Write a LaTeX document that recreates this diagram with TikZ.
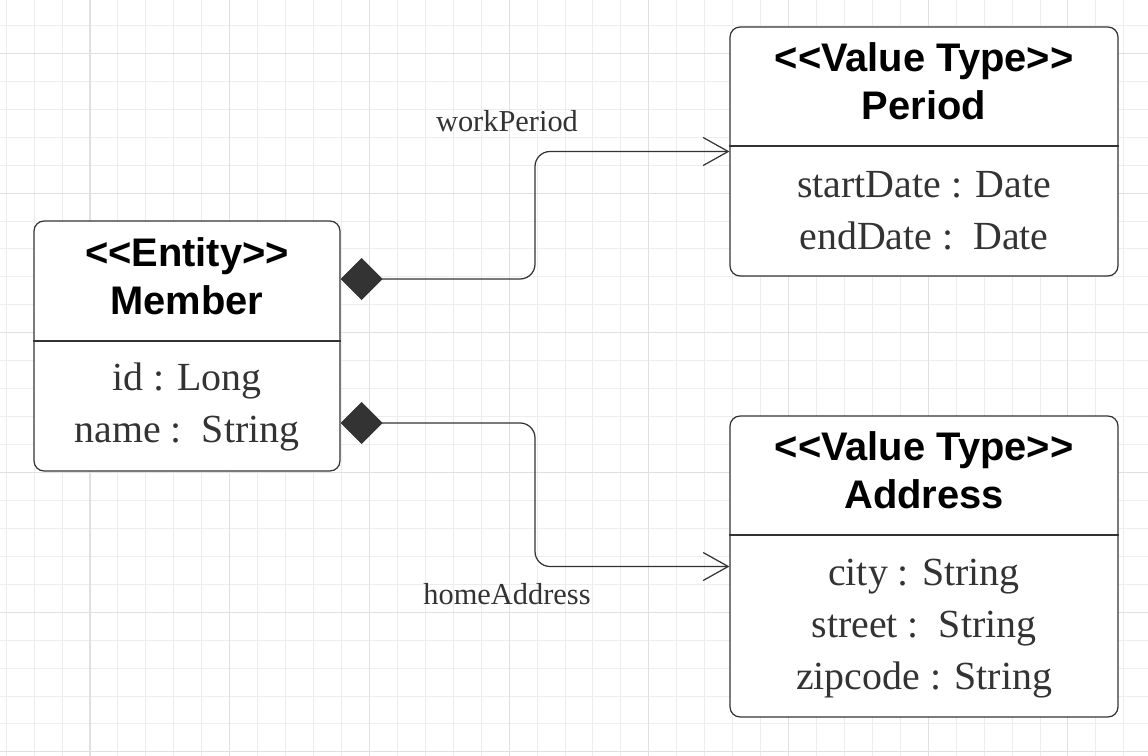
\documentclass[tikz,border=0pt]{standalone}
\usepackage{fontspec}
\setmainfont{Liberation Serif}
\newfontfamily\headfont{Liberation Sans}
\definecolor{UMLdark}{HTML}{333333}
\definecolor{GRIDminor}{HTML}{EDEDED}
\definecolor{GRIDmajor}{HTML}{E0E0E0}
\usetikzlibrary{arrows.meta, calc, positioning}

\begin{document}
\begin{tikzpicture}[x=0.02cm, y=-0.02cm,
      gridminor/.style={GRIDminor, line width=0.55pt},
      gridmajor/.style={GRIDmajor, line width=0.6pt},
      classbox/.style={draw=UMLdark, line width=0.7pt, rounded corners=0.2cm, fill=white},
      divider/.style={UMLdark, line width=0.7pt},
      headtext/.style={align=center, text=black, font=\headfont\bfseries\fontsize{22.7}{27.2}\selectfont},
      attrtext/.style={align=center, text=UMLdark, font=\fontsize{22.7}{29.5}\selectfont},
      assoclabel/.style={text=UMLdark, font=\fontsize{17.3}{20}\selectfont},
      compose/.style={draw=UMLdark, line width=0.7pt, rounded corners=0.3cm,
         {Diamond[length=0.84cm, width=0.84cm, fill=UMLdark]}-{Straight Barb[length=0.5cm, width=0.56cm]}}]
   % Background and grid
   \useasboundingbox (0,0) rectangle (1148,756);
   \fill[white] (0,0) rectangle (1148,756);
   \foreach \i in {0,...,40}
      \draw[gridminor] ({6.2+\i*27.94},0) -- ({6.2+\i*27.94},756);
   \foreach \j in {1,...,27}
      \draw[gridminor] (0,{-2.5+\j*27.94}) -- (1148,{-2.5+\j*27.94});
   \foreach \i in {3,8,...,38}
      \draw[gridmajor] ({6.2+\i*27.94},0) -- ({6.2+\i*27.94},756);
   \foreach \j in {2,7,...,27}
      \draw[gridmajor] (0,{-2.5+\j*27.94}) -- (1148,{-2.5+\j*27.94});

   % Entity: Member
   \node[classbox, minimum width=6.12cm, minimum height=5cm] (member) at (187,346) {};
   \draw[divider] (member.west |- 0,341) -- (member.east |- 0,341);
   \node[headtext] (memberhead) at (187,276) {<<Entity>>\\Member};
   \node[attrtext] (memberattr) at (187,407) {id : Long\\name :\ \ String};

   % Value type: Period
   \node[classbox, minimum width=7.76cm, minimum height=4.98cm] (period) at (924,151.5) {};
   \draw[divider] (period.west |- 0,146) -- (period.east |- 0,146);
   \node[headtext] (periodhead) at (924,81) {<<Value Type>>\\Period};
   \node[attrtext] (periodattr) at (924,211) {startDate : Date\\endDate :\ \ Date};

   % Value type: Address
   \node[classbox, minimum width=7.76cm, minimum height=6.02cm] (address) at (924,566.5) {};
   \draw[divider] (address.west |- 0,535) -- (address.east |- 0,535);
   \node[headtext] (addresshead) at (924,470) {<<Value Type>>\\Address};
   \node[attrtext] (addressattr) at (924,628.7) {city : String\\street :\ \ String\\zipcode : String};

   % Compositions
   \coordinate (workstart) at ([yshift=1.34cm]member.east);
   \coordinate (homestart) at ([yshift=-1.54cm]member.east);
   \draw[compose] (workstart) -| ($(member.east)!0.5!(period.west)$) |- (period.west);
   \draw[compose] (homestart) -| ($(member.east)!0.5!(address.west)$) |- (address.west);
   \node[assoclabel] (worklabel) at (507,121) {workPeriod};
   \node[assoclabel] (homelabel) at (507,594) {homeAddress};
\end{tikzpicture}
\end{document}
